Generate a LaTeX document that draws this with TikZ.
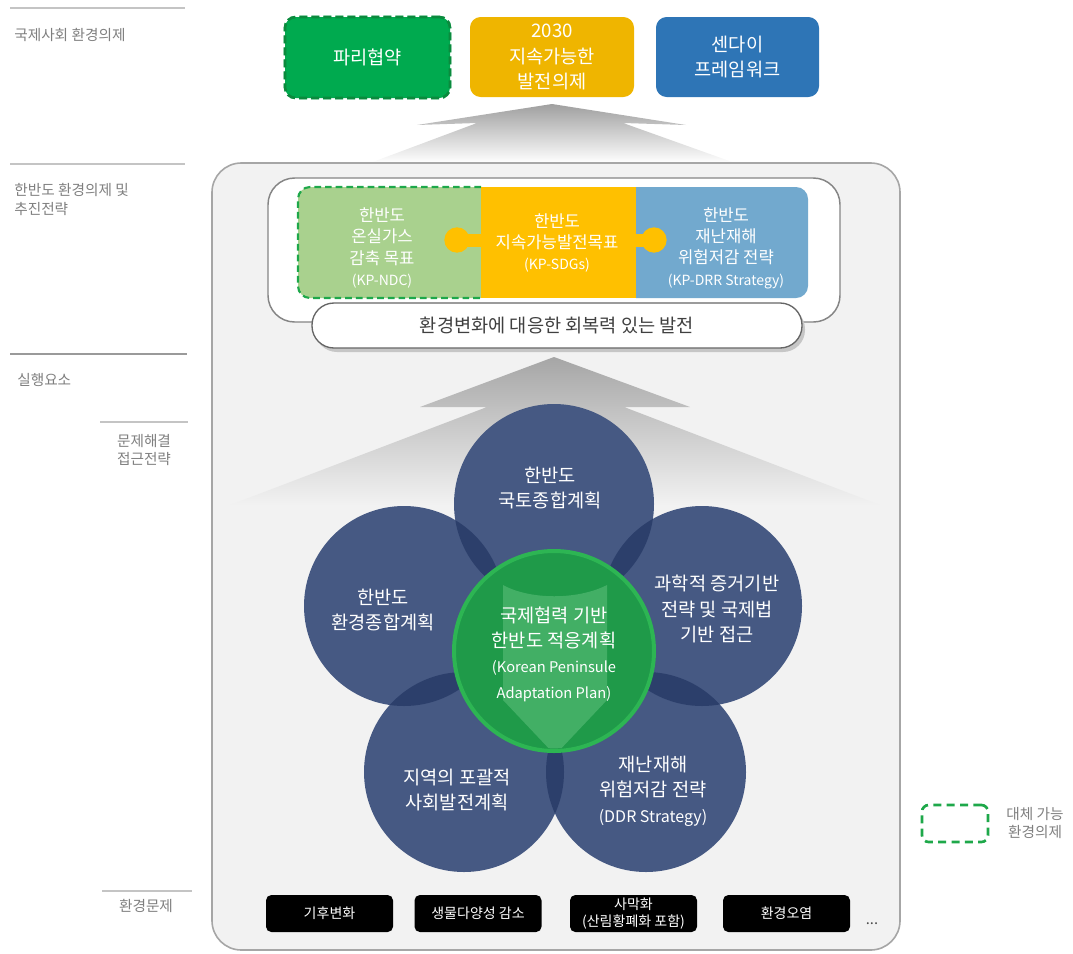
\documentclass[tikz,border=0pt]{standalone}
\usepackage{fontspec}
\setmainfont{Noto Sans CJK KR}
\usetikzlibrary{shapes.geometric}
\definecolor{lblgray}{HTML}{7F7F7F}
\definecolor{sepgray}{HTML}{C4C4C4}
\definecolor{sepdark}{HTML}{9A9A9A}
\definecolor{parisgreen}{HTML}{00AA4F}
\definecolor{parisdash}{HTML}{0B8A3D}
\definecolor{sdgyellow}{HTML}{EFB500}
\definecolor{sendaiblue}{HTML}{2E75B6}
\definecolor{panelfill}{HTML}{F2F2F2}
\definecolor{panelline}{HTML}{A6A6A6}
\definecolor{pgreen}{HTML}{A9D18E}
\definecolor{pyellow}{HTML}{FFC000}
\definecolor{pblue}{HTML}{72A9CE}
\definecolor{dashgreen}{HTML}{1EA84A}
\definecolor{cblue}{HTML}{465983}
\definecolor{cdark}{HTML}{2C3F6B}
\definecolor{cgreen}{HTML}{1F9A49}
\definecolor{cgreenline}{HTML}{2DB553}
\definecolor{garrow}{HTML}{52B872}
\definecolor{pilltext}{HTML}{404040}
\begin{document}
\begin{tikzpicture}[x=0.75pt,y=-0.75pt,
  lbl/.style={text=lblgray, font=\fontsize{11}{14}\selectfont, inner sep=0pt},
  sepline/.style={draw=sepgray, line width=1.6pt},
  topbox/.style={rounded corners=8pt, text=white, align=center, font=\fontsize{14}{19}\selectfont, minimum height=60pt, inner sep=0pt},
  ptext/.style={text=white, align=center, font=\fontsize{12.5}{16}\selectfont, inner sep=0pt},
  circ/.style={circle, fill=cblue, minimum size=150pt, inner sep=0pt, outer sep=0pt},
  ctext/.style={text=white, align=center, font=\fontsize{14}{19}\selectfont, inner sep=0pt},
  probbox/.style={fill=black, rounded corners=4pt, text=white, align=center, minimum width=95.25pt, minimum height=27.75pt, inner sep=0pt, font=\fontsize{10.5}{13}\selectfont},
]
\useasboundingbox (0,0) rectangle (1073,953);

% ---------- left labels ----------
\draw[sepline] (10,8) -- (185,8);
\node[lbl, anchor=west] (l1) at (14,35) {국제사회 환경의제};
\draw[sepline] (10,164) -- (185,164);
\node[lbl, anchor=north west, align=left] (l2) at (14,183) {한반도 환경의제 및\\추진전략};
\draw[sepline, draw=sepdark, line width=2pt] (10,354) -- (187,354);
\node[lbl, anchor=west] (l3) at (17,380) {실행요소};
\draw[sepline] (100,422) -- (188,422);
\node[lbl, align=center] (l4) at (144,450) {문제해결\\접근전략};
\draw[sepline] (102,891) -- (192,891);
\node[lbl] (l5) at (146,906) {환경문제};

% ---------- top agenda boxes ----------
\node[topbox, fill=parisgreen, minimum width=123.75pt, minimum height=60.75pt,
      preaction={draw=white!55!parisgreen, line width=2pt},
      draw=parisdash, line width=2pt, dash pattern=on 6pt off 3pt] (paris) at (367.5,57.5) {파리협약};
\node[topbox, fill=sdgyellow, minimum width=123pt] (sdg) at (552,57) {2030\\지속가능한\\발전의제};
\node[topbox, fill=sendaiblue, minimum width=122.25pt] (sendai) at (737.5,57) {센다이\\프레임워크};

% top arrow
\shade[top color=gray!75, bottom color=white] (552,104) -- (686,125) -- (623,123) -- (735,163) -- (370,163) -- (477,123) -- (417,125) -- cycle;

% ---------- main panel ----------
\node[draw=panelline, fill=panelfill, line width=1.2pt, rounded corners=22pt, minimum width=516pt, minimum height=590.25pt, inner sep=0pt] (panel) at (556,556.5) {};

% inner white box
\node[draw=panelline!80!black, fill=white, line width=1.1pt, rounded corners=20pt, minimum width=429pt, minimum height=108pt, inner sep=0pt] (inner) at (554,250) {};

% puzzle pieces
\fill[pgreen] (481,187) [rounded corners=9pt] -- (298,187) -- (298,298) [sharp corners] -- (481,298) -- cycle;
\draw[dashgreen, line width=1.6pt, dash pattern=on 5pt off 3pt] (481,187) [rounded corners=9pt] -- (298,187) -- (298,298) [sharp corners] -- (481,298);
\fill[pblue] (636,187) [rounded corners=9pt] -- (808,187) -- (808,298) [sharp corners] -- (636,298) -- cycle;
\fill[pyellow] (481,187) rectangle (636,298);
\fill[pyellow] (464,234) rectangle (482,247);
\fill[pyellow] (457,240) circle[radius=9.5pt];
\fill[pyellow] (635,234) rectangle (648,247);
\fill[pyellow] (654,240) circle[radius=9.5pt];

\node[ptext] (pg) at (382,248) {한반도\\온실가스\\감축 목표\\{\fontsize{10.5}{14}\selectfont (KP-NDC)}};
\node[ptext] (py) at (557,243) {한반도\\지속가능발전목표\\{\fontsize{10.5}{14}\selectfont (KP-SDGs)}};
\node[ptext] (pb) at (726,248) {한반도\\재난재해\\위험저감 전략\\{\fontsize{10.5}{14}\selectfont (KP-DRR Strategy)}};

% pill
\fill[gray!45, rounded corners=16.5pt] (315,307) rectangle (805,352);
\node[draw=pilltext!80, fill=white, line width=1pt, rounded corners=16.5pt, minimum width=367.5pt, minimum height=33.75pt, inner sep=0pt, text=pilltext, font=\fontsize{14}{16}\selectfont] (pill) at (557,325.5) {환경변화에 대응한 회복력 있는 발전};

% big arrow
\shade[top color=gray!70, bottom color=panelfill] (554,357) -- (690,407) -- (624,407) -- (880,505) -- (230,505) -- (487,407) -- (420,407) -- cycle;

% ---------- circles ----------
\node[circ] (ct) at (554,504) {};
\node[circ] (cl) at (404,606) {};
\node[circ] (cr) at (702,606) {};
\node[circ] (cbl) at (464,772) {};
\node[circ] (cbr) at (646,772) {};
\foreach \a/\b in {ct/cl, ct/cr, cl/cbl, cr/cbr, cbl/cbr}{
  \begin{scope}
    \clip (\a.center) circle[radius=75pt];
    \fill[cdark] (\b.center) circle[radius=75pt];
  \end{scope}
}
\node[circle, fill=cgreen, draw=cgreenline, line width=3pt, minimum size=150pt, inner sep=0pt] (cc) at (554,651) {};
\begin{scope}
  \clip (cc.center) circle[radius=73pt];
  \fill[garrow, opacity=0.7] (503,585) .. controls (530,600) and (578,600) .. (607,585) -- (607,700) -- (555,755) -- (503,700) -- cycle;
\end{scope}

\node[ctext] (tct) at (550,488) {한반도\\국토종합계획};
\node[ctext] (tcl) at (383,610) {한반도\\환경종합계획};
\node[ctext] (tcr) at (717,609) {과학적 증거기반\\전략 및 국제법\\기반 접근};
\node[ctext] (tcbl) at (457,790) {지역의 포괄적\\사회발전계획};
\node[ctext] (tcbr) at (653,791) {재난재해\\위험저감 전략\\{\fontsize{12}{16}\selectfont (DDR Strategy)}};
\node[ctext] (tcc) at (554,654) {국제협력 기반\\한반도 적응계획\\{\fontsize{11}{14}\selectfont (Korean Peninsule}\\{\fontsize{11}{14}\selectfont Adaptation Plan)}};

% ---------- environmental problems ----------
\node[probbox] (b1) at (329.5,913.5) {기후변화};
\node[probbox] (b2) at (478,913.5) {생물다양성 감소};
\node[probbox] (b3) at (633.5,913.5) {사막화\\(산림황폐화 포함)};
\node[probbox] (b4) at (786.5,913.5) {환경오염};
\node[text=gray!60!black, font=\fontsize{11}{12}\selectfont, inner sep=0pt] (dots) at (872,924) {...};

% ---------- legend ----------
\node[draw=dashgreen, line width=2pt, dash pattern=on 6pt off 4pt, rounded corners=5pt, minimum width=49.5pt, minimum height=27.75pt, inner sep=0pt] (leg) at (955,823.5) {};
\node[lbl, align=center] (legt) at (1035,823) {대체 가능\\환경의제};
\end{tikzpicture}
\end{document}
